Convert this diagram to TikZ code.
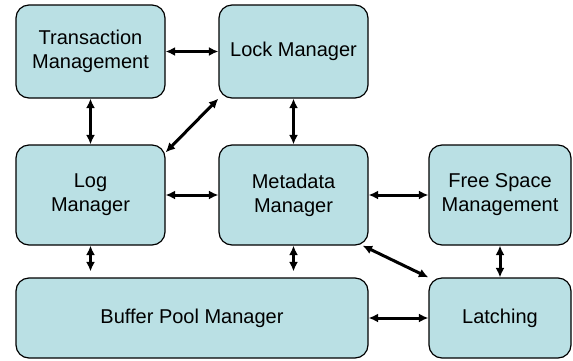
\documentclass[tikz,border=0pt]{standalone}
\usepackage{fontspec}
\setmainfont{Liberation Sans}
\usetikzlibrary{arrows.meta,arrows}
\usetikzlibrary{calc}
\definecolor{boxfill}{RGB}{186,224,228}
\tikzset{%
  >={Latex[width=9pt,length=9.5pt]},
  % Specifications for style of nodes:
            unit/.style = {rectangle, rounded corners=13pt, draw=black, line width=1.2pt,
                           fill=boxfill, text centered,
                           minimum width=149pt, minimum height=100pt},
       toprow/.style = {unit, minimum height=93pt},
       botrow/.style = {unit, minimum height=80pt},
      sidecol/.style = {minimum width=142pt},
         link/.style = {<->, line width=3pt},
}

\begin{document}
\begin{tikzpicture}[x=1pt, y=1pt, node distance=203pt,
    every node/.style={font=\fontsize{20}{24}\selectfont}, align=center]
  \useasboundingbox (0,0) rectangle (573,-360);
  % Specification of nodes (position, etc.)

  \node (trans) [toprow] at (90.5,-51.5) {Transaction\\Management};
  \node (lock)  [toprow, right of=trans] {Lock Manager};

  \node (log)  [unit, below of=trans, yshift=59.5pt] {Log\\Manager};
  \node (meta) [unit, right of=log] {Metadata\\Manager};
  \node (free) [unit, sidecol, right of=meta, xshift=3.5pt] {Free Space\\Management};

  \node (buffer) [botrow, minimum width=352pt, below of=log, xshift=101.5pt, yshift=80pt] {Buffer Pool Manager};
  \node (latch)  [botrow, sidecol, below of=free, yshift=80pt] {Latching};

  % Specification of lines between nodes specified above
\draw[link] (trans) -- (lock);
\draw[link] (trans) -- (log);
\draw[link] (lock) -- (meta);
\draw[link] ([yshift=-8pt]log.north east) -- (lock.south west);
\draw[link] (log) -- (meta);
\draw[link] (meta) -- (free);
\draw[link] (free) -- (latch);
\draw[link] ([xshift=-6pt]meta.south east) -- (latch.north west);
\draw[link, shorten >=6pt] (log.south) -- (log.south |- buffer.north);
\draw[link, shorten >=6pt] (meta.south) -- (meta.south |- buffer.north);
\draw[link] (buffer) -- (latch);

  \end{tikzpicture}
\end{document}
